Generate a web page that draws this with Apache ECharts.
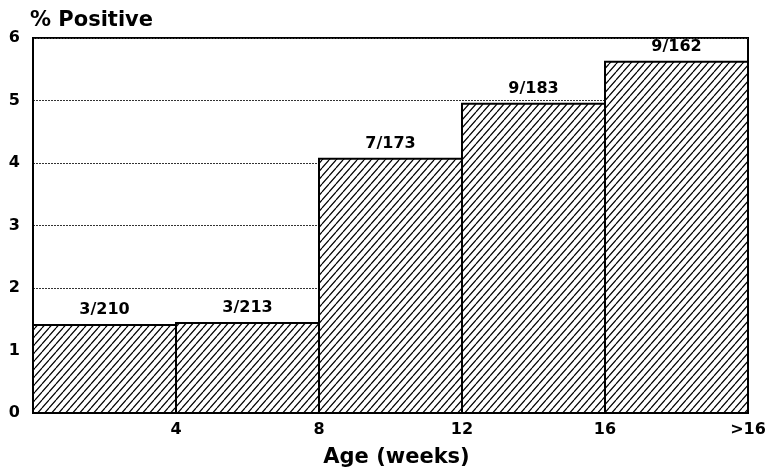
<!DOCTYPE html>
<html>
<head>
<meta charset="utf-8">
<script src="https://cdn.jsdelivr.net/npm/echarts@6/dist/echarts.min.js"></script>
<style>
html,body{margin:0;padding:0;background:#fff;}
#chart{width:771px;height:474px;}
</style>
</head>
<body>
<div id="chart"></div>
<script>
// Data
const categories = ['0-4', '4-8', '8-12', '12-16', '>16'];
const binStart = [0, 4, 8, 12, 16];
const binEnd = [4, 8, 12, 16, 20];
const percentPositive = [1.41, 1.44, 4.07, 4.95, 5.62];
const ratioLabels = ['3/210', '3/213', '7/173', '9/183', '9/162'];
const xTickValues = [4, 8, 12, 16, 20];
const xTickLabels = ['4', '8', '12', '16', '>16'];
const yTicks = [0, 1, 2, 3, 4, 5, 6];

// hatch pattern
const TW = 7, TH = 8;
const tile = document.createElement('canvas');
tile.width = TW; tile.height = TH;
const c = tile.getContext('2d');
c.fillStyle = '#fff';
c.fillRect(0, 0, TW, TH);
c.strokeStyle = '#000';
c.lineWidth = 1.2;
c.beginPath();
for (let k = -1; k <= 1; k++) {
  c.moveTo(k * TW, TH); c.lineTo(k * TW + TW, 0);
}
c.stroke();

const FONT = '"DejaVu Sans", Verdana, sans-serif';
const chart = echarts.init(document.getElementById('chart'), null, {renderer: 'canvas'});

const data = categories.map((cat, i) => [binStart[i], binEnd[i], percentPositive[i]]);

chart.setOption({
  animation: false,
  backgroundColor: '#fff',
  grid: {left: 33, right: 23, top: 38, bottom: 61, show: true, borderColor: '#000', borderWidth: 2, backgroundColor: 'transparent'},
  xAxis: {
    type: 'value', min: 0, max: 20, interval: 4,
    name: 'Age (weeks)', nameLocation: 'middle', nameGap: 34,
    nameTextStyle: {fontFamily: FONT, fontWeight: 'bold', fontSize: 21, color: '#000', padding: [0, 0, 0, 12]},
    axisLine: {show: true, lineStyle: {color: '#000', width: 2}},
    axisTick: {show: false},
    splitLine: {show: false},
    axisLabel: {
      margin: 9, color: '#000', fontFamily: FONT, fontWeight: 'bold', fontSize: 16,
      formatter: v => { const k = xTickValues.indexOf(v); return k >= 0 ? xTickLabels[k] : ''; }
    }
  },
  yAxis: {
    type: 'value', min: 0, max: 6, interval: 1,
    name: '% Positive', nameLocation: 'end', nameGap: 7,
    nameTextStyle: {fontFamily: FONT, fontWeight: 'bold', fontSize: 21, color: '#000', align: 'left', padding: [0, 0, 0, -3]},
    axisLine: {show: true, lineStyle: {color: '#000', width: 2}},
    axisTick: {show: false},
    splitLine: {show: true, lineStyle: {color: '#333', width: 1, type: [2, 1]}},
    axisLabel: {margin: 13, color: '#000', fontFamily: FONT, fontWeight: 'bold', fontSize: 16,
      formatter: v => yTicks.indexOf(v) >= 0 ? String(v) : ''}
  },
  series: [{
    type: 'custom',
    data: data,
    encode: {x: [0, 1], y: 2},
    renderItem: function (params, api) {
      const p0 = api.coord([api.value(0), api.value(2)]);
      const p1 = api.coord([api.value(1), 0]);
      const label = ratioLabels[params.dataIndex];
      return {
        type: 'group',
        children: [{
          type: 'rect',
          shape: {x: p0[0], y: p0[1], width: p1[0] - p0[0], height: p1[1] - p0[1]},
          style: {fill: {image: tile, repeat: 'repeat'}, stroke: '#000', lineWidth: 2}
        }, {
          type: 'text',
          style: {
            text: label, x: (p0[0] + p1[0]) / 2, y: p0[1] - 15,
            align: 'center', verticalAlign: 'middle',
            font: 'bold 16px ' + FONT, fill: '#000'
          }
        }]
      };
    }
  }]
});
</script>
</body>
</html>
